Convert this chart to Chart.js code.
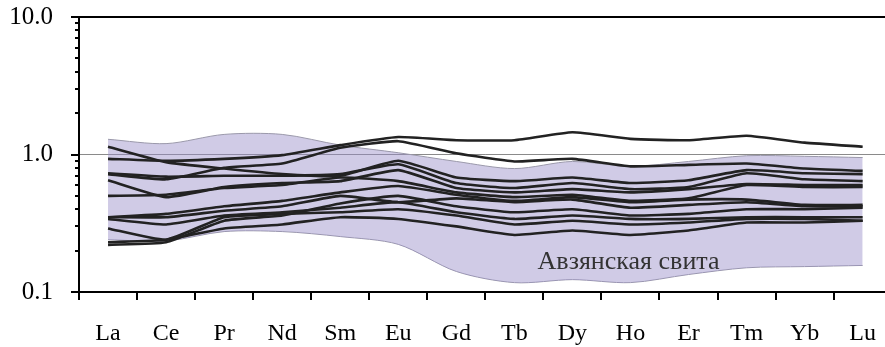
<!DOCTYPE html>
<html>
<head>
<meta charset="utf-8">
<script src="https://cdn.jsdelivr.net/npm/chart.js@4/dist/chart.umd.min.js"></script>
<style>
    html, body { margin: 0; padding: 0; background: #fff; overflow: hidden; }
    #wrap { width: 885px; height: 347px; overflow: hidden; }
</style>
</head>
<body>
<div id="wrap"><canvas id="myChart" width="895" height="347"></canvas></div>
<script>
var elements = ["La", "Ce", "Pr", "Nd", "Sm", "Eu", "Gd", "Tb", "Dy", "Ho", "Er", "Tm", "Yb", "Lu"];

// field of the Avzyan suite (upper / lower border)
var fieldTop = [1.29, 1.20, 1.40, 1.40, 1.17, 1.03, 0.89, 0.79, 0.89, 0.82, 0.89, 0.98, 0.97, 0.95];
var fieldBottom = [0.24, 0.235, 0.275, 0.275, 0.253, 0.222, 0.141, 0.117, 0.123, 0.117, 0.134, 0.15, 0.153, 0.156];

// samples
var s1 = [0.93, 0.90, 0.93, 0.99, 1.17, 1.34, 1.27, 1.27, 1.45, 1.30, 1.27, 1.37, 1.22, 1.14];
var s2 = [0.72, 0.66, 0.80, 0.86, 1.12, 1.25, 1.02, 0.89, 0.93, 0.82, 0.84, 0.86, 0.79, 0.76];
var s3 = [1.14, 0.88, 0.79, 0.72, 0.70, 0.90, 0.68, 0.64, 0.68, 0.62, 0.65, 0.77, 0.73, 0.72];
var s4 = [0.73, 0.69, 0.70, 0.70, 0.72, 0.85, 0.62, 0.57, 0.62, 0.56, 0.58, 0.73, 0.66, 0.64];
var s5 = [0.65, 0.49, 0.58, 0.62, 0.64, 0.77, 0.57, 0.53, 0.56, 0.53, 0.56, 0.61, 0.60, 0.60];
var s6 = [0.50, 0.51, 0.57, 0.60, 0.68, 0.64, 0.53, 0.49, 0.51, 0.46, 0.48, 0.60, 0.58, 0.58];
var s7 = [0.35, 0.37, 0.42, 0.46, 0.53, 0.59, 0.51, 0.46, 0.49, 0.45, 0.47, 0.47, 0.43, 0.43];
var s8 = [0.35, 0.35, 0.39, 0.42, 0.50, 0.45, 0.48, 0.45, 0.47, 0.41, 0.43, 0.45, 0.42, 0.42];
var s9 = [0.34, 0.31, 0.36, 0.38, 0.41, 0.45, 0.38, 0.34, 0.36, 0.34, 0.34, 0.35, 0.35, 0.35];
var s10 = [0.29, 0.24, 0.35, 0.37, 0.38, 0.40, 0.36, 0.31, 0.33, 0.31, 0.32, 0.34, 0.34, 0.33];
var s11 = [0.23, 0.24, 0.29, 0.31, 0.35, 0.34, 0.30, 0.26, 0.28, 0.26, 0.28, 0.32, 0.32, 0.33];
var s12 = [0.22, 0.23, 0.33, 0.36, 0.44, 0.50, 0.42, 0.38, 0.40, 0.36, 0.37, 0.40, 0.40, 0.41];

var samples = [s1, s2, s3, s4, s5, s6, s7, s8, s9, s10, s11, s12];
var yTicks = [0.1, 1, 10];
var fieldName = "Авзянская свита";

var serif = "Liberation Serif";

var datasets = [];
for (var i = 0; i < samples.length; i++) {
    datasets.push({
        data: samples[i],
        borderColor: '#222',
        borderWidth: 2.6,
        pointRadius: 0,
        fill: false,
        tension: 0.15
    });
}
datasets.push({
    data: fieldTop,
    borderColor: '#9a98aa',
    borderWidth: 1,
    pointRadius: 0,
    backgroundColor: 'rgba(150, 140, 200, 0.45)',
    fill: '+1',
    tension: 0.3
});
datasets.push({
    data: fieldBottom,
    borderColor: '#9a98aa',
    borderWidth: 1,
    pointRadius: 0,
    fill: false,
    tension: 0.3
});

// axis ticks on the log axis, top frame line and the field name
var extras = {
    id: 'extras',
    afterDraw: function (chart) {
        var ctx = chart.ctx,
            area = chart.chartArea,
            y = chart.scales.y;
        ctx.save();
        ctx.strokeStyle = '#000';
        ctx.lineWidth = 2;
        ctx.beginPath();
        ctx.moveTo(area.left - 1, area.top);
        ctx.lineTo(area.right, area.top);
        for (var d = 0.1; d < 10; d *= 10) {
            for (var k = 1; k <= 10; k++) {
                var v = d * k;
                var py = Math.round(y.getPixelForValue(v));
                var len = (k === 1 || k === 10) ? 8 : 4;
                ctx.moveTo(area.left - len, py);
                ctx.lineTo(area.left, py);
            }
        }
        ctx.stroke();

        ctx.fillStyle = '#333';
        ctx.font = "26px " + serif;
        ctx.textBaseline = 'middle';
        ctx.textAlign = 'left';
        ctx.fillText(fieldName, chart.scales.x.getPixelForValue(7.4), y.getPixelForValue(0.165));
        ctx.restore();
    }
};

var ctx = document.getElementById('myChart').getContext('2d');
var chart = new Chart(ctx, {
    type: 'line',
    data: {
        labels: elements,
        datasets: datasets
    },
    options: {
        responsive: false,
        animation: false,
        layout: { padding: { top: 0, right: 0, left: 0, bottom: 0 } },
        plugins: {
            legend: { display: false },
            tooltip: { enabled: false }
        },
        scales: {
            x: {
                offset: true,
                grid: {
                    offset: true,
                    drawOnChartArea: false,
                    drawTicks: true,
                    tickLength: 8,
                    color: '#000',
                    lineWidth: 2
                },
                border: { display: true, color: '#000', width: 2 },
                ticks: {
                    color: '#000',
                    padding: 19,
                    font: { family: serif, size: 24 }
                },
                afterFit: function (scale) { scale.height = 55; }
            },
            y: {
                type: 'logarithmic',
                min: 0.1,
                max: 10,
                grid: {
                    drawTicks: false,
                    color: function (c) {
                        return c.tick && c.tick.value === 1 ? '#8a8a8a' : 'rgba(0,0,0,0)';
                    },
                    lineWidth: 1
                },
                border: { display: true, color: '#000', width: 2 },
                ticks: {
                    autoSkip: false,
                    color: '#000',
                    padding: 26,
                    font: { family: serif, size: 25 },
                    callback: function (v) {
                        return yTicks.indexOf(v) >= 0 ? v.toFixed(1) : '';
                    }
                },
                afterFit: function (scale) {
                    scale.width = 79;
                    scale.paddingTop = 17;
                }
            }
        }
    },
    plugins: [extras]
});
</script>
</body>
</html>
